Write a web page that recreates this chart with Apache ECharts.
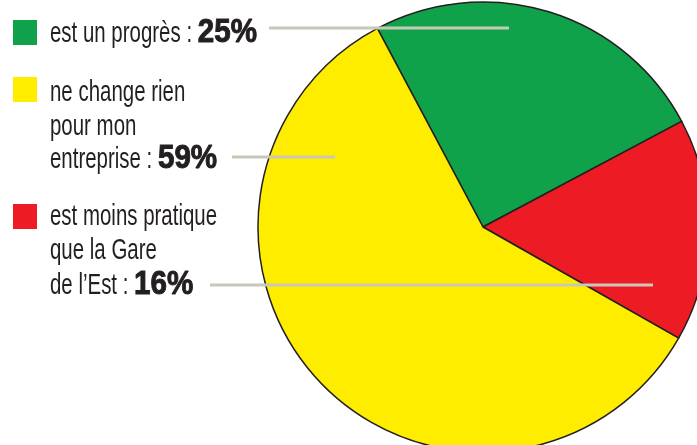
<!DOCTYPE html>
<html>
<head>
<meta charset="utf-8">
<script src="https://cdn.jsdelivr.net/npm/echarts@6/dist/echarts.min.js"></script>
<style>
  html, body { margin: 0; padding: 0; background: #fff; }
  #chart { width: 697px; height: 445px; }
</style>
</head>
<body>
<div id="chart"></div>
<script>
// slices, in drawing order (clockwise from the top-left edge)
const categories = ["est un progrès", "est moins pratique que la Gare de l’Est", "ne change rien pour mon entreprise"];
const values = [25, 16, 59];
const colors = ["#10a24a", "#ed1c24", "#ffed00"];

// legend blocks on the left (top to bottom)
const legendLines = [
  ["est un progrès :"],
  ["ne change rien", "pour mon", "entreprise :"],
  ["est moins pratique", "que la Gare", "de l’Est :"]
];
const legendValues = [25, 59, 16];
const legendColors = ["#10a24a", "#ffed00", "#ed1c24"];

const font = "'Liberation Sans', Arial, sans-serif";
const normSize = 29, normScale = 0.705;
const boldSize = 34, boldScale = 0.87;
const baselines = [[42], [101.5, 135, 168], [225, 259.5, 294]];
const squareTop = [20, 77, 204];
const leaders = [[269, 28, 509], [232, 157, 335], [210, 285, 653]];

const ctx = document.createElement("canvas").getContext("2d");
ctx.font = normSize + "px " + font;

const graphic = [];
legendLines.forEach(function (lines, i) {
  graphic.push({
    type: "rect", left: 13, top: squareTop[i],
    shape: { width: 24, height: 25 },
    style: { fill: legendColors[i] }
  });
  lines.forEach(function (txt, j) {
    const b = baselines[i][j];
    graphic.push({
      type: "text", x: 50, y: b + normSize * 0.22, scaleX: normScale,
      style: {
        text: txt, font: normSize + "px " + font,
        fill: "#231f20", verticalAlign: "bottom"
      }
    });
    if (j === lines.length - 1) {
      const w = ctx.measureText(txt + " ").width * normScale;
      graphic.push({
        type: "text", x: 50 + w, y: b + boldSize * 0.22, scaleX: boldScale,
        style: {
          text: legendValues[i] + "%", font: "bold " + boldSize + "px " + font,
          fill: "#231f20", stroke: "#231f20", lineWidth: 1,
          verticalAlign: "bottom"
        }
      });
    }
  });
});
leaders.forEach(function (l) {
  graphic.push({
    type: "line", z: 10,
    shape: { x1: l[0], y1: l[1], x2: l[2], y2: l[1] },
    style: { stroke: "#c9c7b8", lineWidth: 3 }
  });
});

const chart = echarts.init(document.getElementById("chart"));
chart.setOption({
  animation: false,
  backgroundColor: "#fff",
  graphic: graphic,
  series: [{
    type: "pie",
    center: [483, 227],
    radius: 225,
    startAngle: 118,
    clockwise: true,
    label: { show: false },
    labelLine: { show: false },
    emphasis: { scale: false },
    itemStyle: { borderColor: "#231f20", borderWidth: 1.5 },
    data: categories.map(function (c, i) {
      return { name: c, value: values[i], itemStyle: { color: colors[i] } };
    })
  }]
});
</script>
</body>
</html>
